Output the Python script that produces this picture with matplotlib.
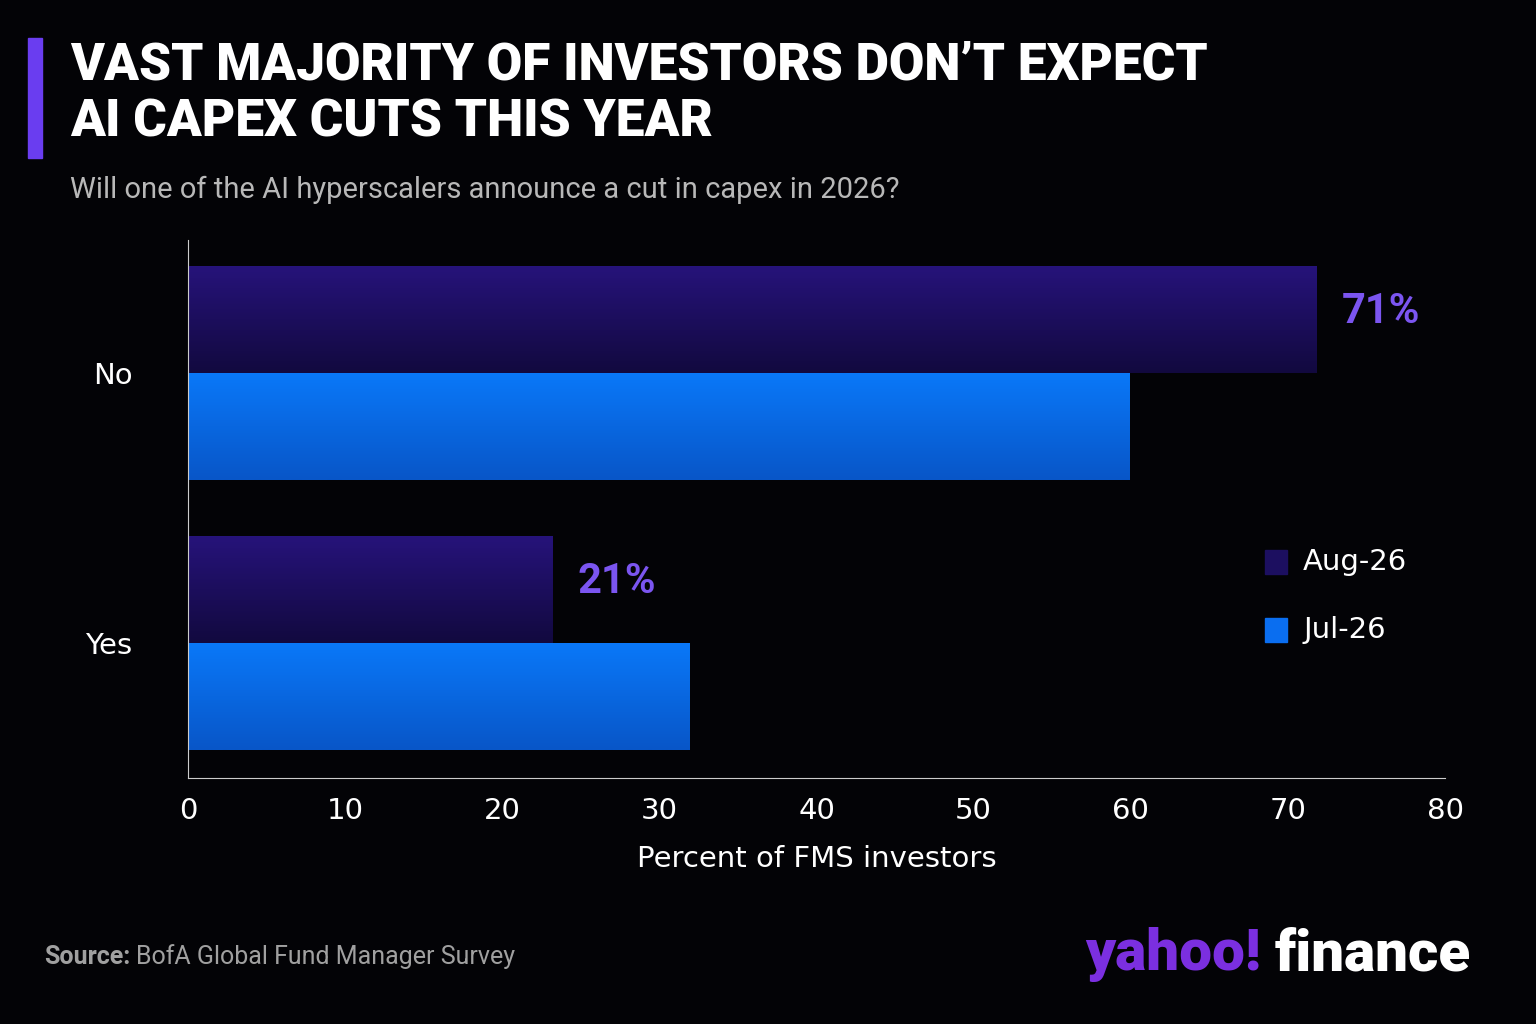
import matplotlib
matplotlib.use("Agg")
import matplotlib.pyplot as plt
import numpy as np
from matplotlib.colors import LinearSegmentedColormap
from matplotlib.patches import Rectangle

categories = ["Yes", "No"]
series_names = ["Aug-26", "Jul-26"]
aug_values = [23.2, 71.8]
jul_values = [31.9, 59.9]
aug_labels = ["21%", "71%"]

BG = "#030306"
fig = plt.figure(figsize=(15.36, 10.24), dpi=100, facecolor=BG)
ax = fig.add_axes([0.1224, 0.2402, 0.8184, 0.5254], facecolor=BG)

h = 0.396
cm_aug = LinearSegmentedColormap.from_list("a", ["#26137a", "#12093f"])
cm_jul = LinearSegmentedColormap.from_list("j", ["#0a78f8", "#0856c8"])
grad = np.linspace(0, 1, 100).reshape(-1, 1)
y = np.arange(len(categories))
for i in range(len(categories)):
    for val, off, cm in [(aug_values[i], h / 2, cm_aug), (jul_values[i], -h / 2, cm_jul)]:
        ax.imshow(grad, cmap=cm, aspect="auto",
                  extent=[0, val, y[i] + off - h / 2, y[i] + off + h / 2],
                  origin="upper", zorder=2)
    ax.text(aug_values[i] + 1.6, y[i] + h / 2 + 0.03, aug_labels[i], color="#7b55f0",
            fontsize=30, fontweight="bold", va="center", ha="left", family="Roboto")

ax.set_xlim(0, 80)
ax.set_ylim(-0.5, 1.493)
ax.set_yticks(y)
ax.set_yticklabels(categories, fontsize=21, color="white")
ax.set_xticks(range(0, 81, 10))
ax.tick_params(axis="x", colors="white", labelsize=21, length=0, pad=14)
ax.tick_params(axis="y", length=0, pad=40)
for lbl in ax.get_yticklabels():
    lbl.set_y(lbl.get_position()[1])
for s in ["top", "right"]:
    ax.spines[s].set_visible(False)
ax.spines["left"].set_color("#cccccc")
ax.spines["bottom"].set_color("#cccccc")
ax.set_xlabel("Percent of FMS investors", color="white", fontsize=21, labelpad=14)

# legend
for name, col, yy in [(series_names[0], "#1c0f60", 562), (series_names[1], "#0a6ef0", 630)]:
    fig.patches.append(Rectangle((1265 / 1536, 1 - (yy + 12) / 1024), 22 / 1536, 24 / 1024,
                                 transform=fig.transFigure, color=col))
    fig.text(1303 / 1536, 1 - yy / 1024, name, color="white", fontsize=21, va="center")

# title block
fig.patches.append(Rectangle((28 / 1536, 1 - 158 / 1024), 14 / 1536, 120 / 1024,
                             transform=fig.transFigure, color="#6a3df0"))
fig.text(70 / 1536, 1 - 94 / 1024, "VAST MAJORITY OF INVESTORS DON’T EXPECT\nAI CAPEX CUTS THIS YEAR",
         color="white", fontsize=37, fontweight="black", family="Roboto", va="center",
         linespacing=1.2)
fig.text(70 / 1536, 1 - 190 / 1024, "Will one of the AI hyperscalers announce a cut in capex in 2026?",
         color="#b8b8b8", fontsize=21, va="center", family="Roboto")
fig.text(44 / 1536, 1 - 957 / 1024, "Source:", color="#a0a0a0", fontsize=18,
         fontweight="bold", va="center", family="Roboto")
fig.text(136 / 1536, 1 - 957 / 1024, "BofA Global Fund Manager Survey", color="#a0a0a0",
         fontsize=18, va="center", family="Roboto")
fig.text(1085 / 1536, 1 - 955 / 1024, "yahoo!", color="#7b2fe0", fontsize=42,
         fontweight="black", va="center", family="Roboto")
fig.text(1275 / 1536, 1 - 955 / 1024, "finance", color="white", fontsize=42,
         fontweight="black", va="center", family="Roboto")

fig.savefig("out.png", dpi=100, facecolor=BG)
